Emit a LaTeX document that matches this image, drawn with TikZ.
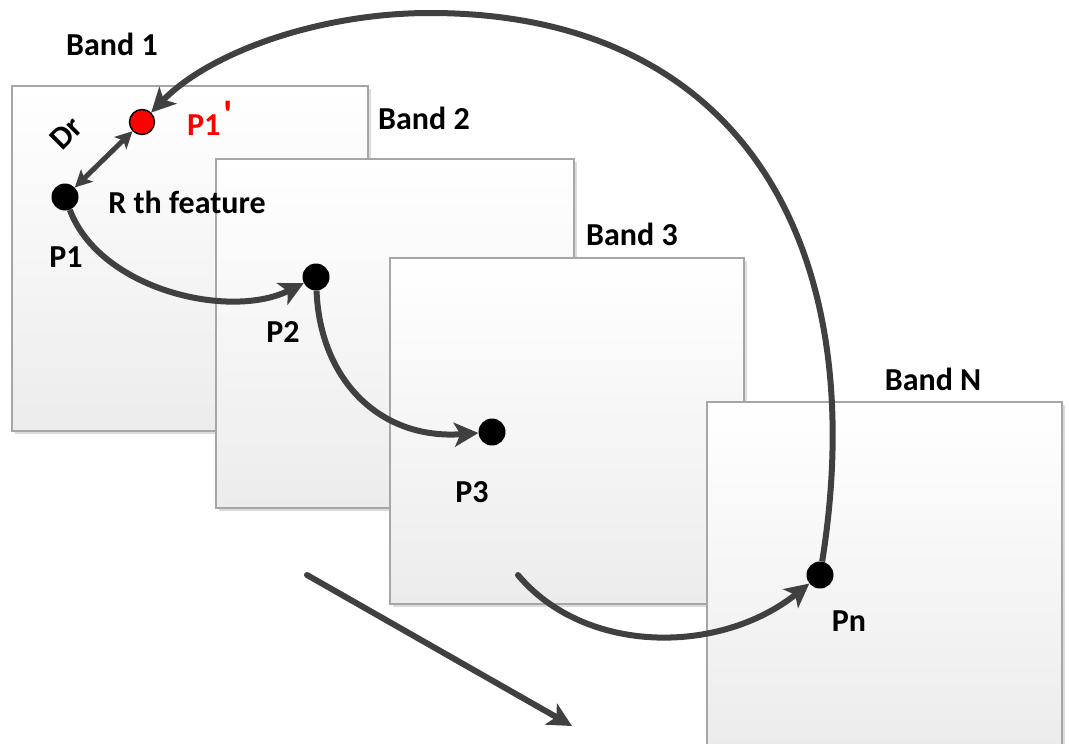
\documentclass[tikz,border=0pt]{standalone}
\usepackage{fontspec}
\setmainfont{Carlito}
\usetikzlibrary{arrows.meta}
\definecolor{linec}{HTML}{404040}
\definecolor{boxborder}{HTML}{A6A6A6}
\definecolor{boxbottom}{HTML}{ECECEC}
\definecolor{shadowc}{HTML}{DCDCDC}
\definecolor{redpt}{HTML}{FF0000}
\tikzset{
  bandbox/.style={draw=boxborder, line width=1.2pt, top color=white, bottom color=boxbottom},
  bandshadow/.style={fill=shadowc, draw=none},
  dotpt/.style={circle, fill=black, minimum size=27pt, inner sep=0pt},
  reddot/.style={circle, fill=redpt, draw=black, line width=1.4pt, minimum size=25pt, inner sep=0pt},
  lbl/.style={font=\fontsize{32}{32}\selectfont\bfseries, inner sep=0pt, text=black},
  flow/.style={draw=linec, line width=6pt, -{Stealth[length=24pt,width=24pt,inset=6pt]}},
  dr/.style={draw=linec, line width=5pt, {Stealth[length=17pt,width=17pt,inset=4pt]}-{Stealth[length=17pt,width=17pt,inset=4pt]}},
}
\begin{document}
\begin{tikzpicture}[x=1pt, y=-1pt]
\useasboundingbox (0,0) rectangle (1069,744);
% bands
\fill[bandshadow] (15,89) rectangle (371,434);
\path[bandbox] (12,86) rectangle (368,431);
\fill[bandshadow] (219,162) rectangle (577,511);
\path[bandbox] (216,159) rectangle (574,508);
\fill[bandshadow] (393,261) rectangle (747,607);
\path[bandbox] (390,258) rectangle (744,604);
\fill[bandshadow] (710,405) rectangle (1065,751);
\path[bandbox] (707,402) rectangle (1062,748);
% labels
\node[lbl] (b1) at (112,44) {Band 1};
\node[lbl] (b2) at (424,118) {Band 2};
\node[lbl] (b3) at (632,234) {Band 3};
\node[lbl] (bn) at (933,379) {Band N};
\node[lbl] (rth) at (187,202) {R th feature};
\node[lbl] (lp1) at (66,257) {P1};
\node[lbl] (lp2) at (283,332) {P2};
\node[lbl] (lp3) at (472,492) {P3};
\node[lbl] (lpn) at (849,621) {Pn};
\node[lbl, text=redpt, anchor=base west] (lp1p) at (187,135) {P1\hspace{3pt}\raisebox{7pt}{\fontsize{40}{40}\selectfont\textquotesingle}};
\node[lbl, rotate=45] (ldr) at (66,133) {Dr};
% points
\node[dotpt] (p1) at (65,197) {};
\node[reddot] (p1p) at (142,122) {};
\node[dotpt] (p2) at (316,277) {};
\node[dotpt] (p3) at (492,432) {};
\node[dotpt] (pn) at (820,575) {};
\coordinate (s3) at (518,575);
\coordinate (a0) at (307,575);
\coordinate (a1) at (572,726);
\coordinate (arctop) at (430,13);
% connectors
\draw[dr] (p1) -- (p1p);
\draw[flow] (p1) .. controls (100,290) and (230,320) .. (p2);
\draw[flow] (p2) .. controls (320,380) and (380,440) .. (p3);
\draw[flow, line cap=round] (s3) .. controls (585,655) and (720,655) .. (pn);
\draw[flow, line cap=round] (a0) -- (a1);
\draw[flow] (pn) .. controls (872,250) and (745,13) .. (arctop) .. controls (320,13) and (210,52) .. (p1p);
\end{tikzpicture}
\end{document}
